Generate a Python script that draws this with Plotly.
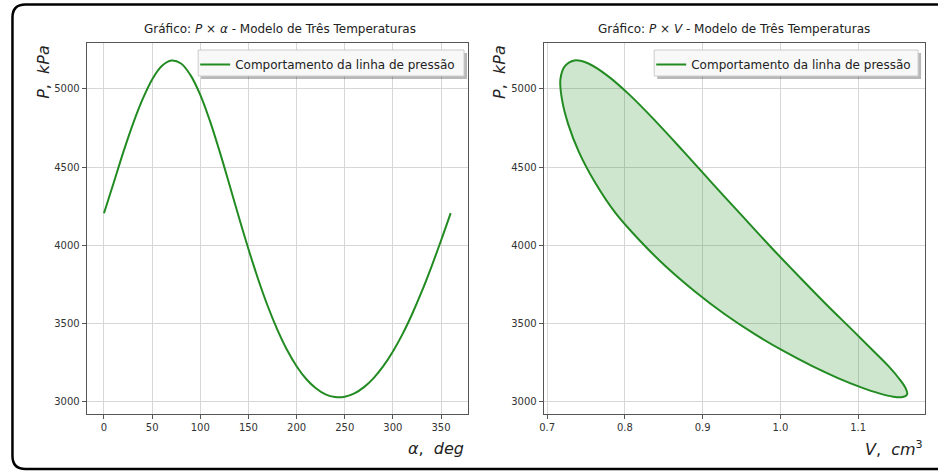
import plotly.graph_objects as go

# ---- data ----
alpha_deg = [0, 10, 20, 30, 40, 50, 60, 70, 80, 90, 100, 110, 120, 130, 140, 150, 160, 170, 180,
             190, 200, 210, 220, 230, 240, 250, 260, 270, 280, 290, 300, 310, 320, 330, 340, 350, 360]
pressure_kpa = [4205, 4398, 4594, 4775, 4933, 5061, 5147, 5182, 5163, 5087, 4962, 4796, 4602, 4393,
                4181, 3976, 3784, 3611, 3460, 3331, 3226, 3144, 3085, 3046, 3029, 3031, 3052, 3092,
                3150, 3226, 3320, 3431, 3560, 3704, 3862, 4030, 4205]
volume_cm3 = [0.788, 0.762, 0.741, 0.727, 0.719, 0.717, 0.723, 0.735, 0.753, 0.777, 0.806, 0.839,
              0.875, 0.913, 0.952, 0.990, 1.027, 1.061, 1.092, 1.118, 1.139, 1.153, 1.161, 1.163,
              1.157, 1.145, 1.127, 1.103, 1.074, 1.041, 1.005, 0.967, 0.928, 0.890, 0.853, 0.819, 0.788]

alpha_ticks = [0, 50, 100, 150, 200, 250, 300, 350]
p_ticks = [3000, 3500, 4000, 4500, 5000]
v_ticks = [0.7, 0.8, 0.9, 1.0, 1.1]
v_tick_labels = ["0.7", "0.8", "0.9", "1.0", "1.1"]

legend_label = "Comportamento da linha de pressão"
title_left = "Gráfico: <i>P</i> × <i>α</i> - Modelo de Três Temperaturas"
title_right = "Gráfico: <i>P</i> × <i>V</i> - Modelo de Três Temperaturas"

# ---- styling ----
W, H = 938, 473
GREEN = "#228B22"
FILL = "rgba(34,139,34,0.22)"
FONT = "DejaVu Sans"
SPINE = "#555555"
GRID = "#d6d6d6"

def X(px):
    return px / W

def Y(py):
    return 1 - py / H

fig = go.Figure()

fig.add_trace(go.Scatter(x=alpha_deg, y=pressure_kpa, mode="lines", name=legend_label,
                         line=dict(color=GREEN, width=2, shape="spline"),
                         xaxis="x", yaxis="y", legend="legend"))
fig.add_trace(go.Scatter(x=volume_cm3, y=pressure_kpa, mode="lines", fill="toself",
                         fillcolor=FILL, line=dict(color=GREEN, width=0, shape="spline"),
                         showlegend=False, hoverinfo="skip", xaxis="x2", yaxis="y2"))
fig.add_trace(go.Scatter(x=volume_cm3, y=pressure_kpa, mode="lines", name=legend_label,
                         line=dict(color=GREEN, width=2, shape="spline"),
                         xaxis="x2", yaxis="y2", legend="legend2"))

axis_common = dict(showline=True, mirror=True, linecolor=SPINE, linewidth=1,
                   showgrid=True, gridcolor=GRID, gridwidth=1, zeroline=False,
                   ticks="outside", ticklen=4, tickcolor=SPINE,
                   tickfont=dict(family=FONT, size=10, color="#333333"))

L0, L1 = 83, 466
R0, R1 = 542, 925
T0, B0 = 43, 414

fig.update_layout(
    width=W, height=H,
    margin=dict(l=0, r=0, t=0, b=0),
    paper_bgcolor="white", plot_bgcolor="white",
    font=dict(family=FONT, color="#222222"),
    xaxis=dict(domain=[X(L0), X(L1)], range=[-18, 378], tickvals=alpha_ticks, anchor="y", **axis_common),
    yaxis=dict(domain=[Y(B0), Y(T0)], range=[2920, 5294], tickvals=p_ticks, anchor="x", **axis_common),
    xaxis2=dict(domain=[X(R0), X(R1)], range=[0.6955, 1.186], tickvals=v_ticks, ticktext=v_tick_labels,
                anchor="y2", **axis_common),
    yaxis2=dict(domain=[Y(B0), Y(T0)], range=[2920, 5294], tickvals=p_ticks, anchor="x2", **axis_common),
    legend=dict(x=X(192), y=Y(50), xanchor="left", yanchor="top", bgcolor="rgba(0,0,0,0)",
                borderwidth=0, font=dict(family=FONT, size=12, color="#222222")),
    legend2=dict(x=X(650), y=Y(50), xanchor="left", yanchor="top", bgcolor="rgba(0,0,0,0)",
                 borderwidth=0, font=dict(family=FONT, size=12, color="#222222")),
)

shapes = []
# outer rounded frame
r = 13
x0, y0, x1, y1 = 8.5, 4.5, 960, 469
path = (f"M {X(x0)},{Y(y0 + r)} L {X(x0)},{Y(y1 - r)} Q {X(x0)},{Y(y1)} {X(x0 + r)},{Y(y1)} "
        f"L {X(x1)},{Y(y1)} L {X(x1)},{Y(y0)} L {X(x0 + r)},{Y(y0)} Q {X(x0)},{Y(y0)} {X(x0)},{Y(y0 + r)} Z")
shapes.append(dict(type="path", xref="paper", yref="paper", path=path,
                   line=dict(color="black", width=2.5), fillcolor="rgba(0,0,0,0)", layer="above"))

# legend frames with shadow
for lx0, lx1 in [(195, 462), (653, 918)]:
    ly0, ly1 = 50, 76
    shapes.append(dict(type="rect", xref="paper", yref="paper",
                       x0=X(lx0 + 3), x1=X(lx1 + 3), y0=Y(ly1 + 3), y1=Y(ly0 + 3),
                       line=dict(width=0), fillcolor="rgba(0,0,0,0.28)", layer="above"))
    shapes.append(dict(type="rect", xref="paper", yref="paper",
                       x0=X(lx0), x1=X(lx1), y0=Y(ly1), y1=Y(ly0),
                       line=dict(color="#cccccc", width=1), fillcolor="rgba(248,248,248,1)", layer="above"))
fig.update_layout(shapes=shapes)

ann = []
ann.append(dict(text=title_left, x=X((L0 + L1) / 2 + 3), y=Y(29), xref="paper", yref="paper",
                showarrow=False, xanchor="center", yanchor="middle",
                font=dict(family=FONT, size=12, color="#222222")))
ann.append(dict(text=title_right, x=X((R0 + R1) / 2), y=Y(29), xref="paper", yref="paper",
                showarrow=False, xanchor="center", yanchor="middle",
                font=dict(family=FONT, size=12, color="#222222")))
for xl in [39, 497]:
    ann.append(dict(text="<i>P</i>,  <i>kPa</i>", x=X(xl), y=Y(T0), xref="paper", yref="paper",
                    showarrow=False, xanchor="center", yanchor="top", textangle=-90,
                    font=dict(family=FONT, size=16, color="#222222")))
ann.append(dict(text="<i>α</i>,  <i>deg</i>", x=X(L1 - 2), y=Y(448), xref="paper", yref="paper",
                showarrow=False, xanchor="right", yanchor="middle",
                font=dict(family=FONT, size=16, color="#222222")))
ann.append(dict(text="<i>V</i>,  <i>cm</i><sup>3</sup>", x=X(R1), y=Y(448), xref="paper", yref="paper",
                showarrow=False, xanchor="right", yanchor="middle",
                font=dict(family=FONT, size=16, color="#222222")))
fig.update_layout(annotations=ann)

fig.write_html("out.html", config={"displayModeBar": False},
               post_script="document.body.style.margin='0';document.body.style.padding='0';"
                           "document.documentElement.style.overflow='hidden';")
